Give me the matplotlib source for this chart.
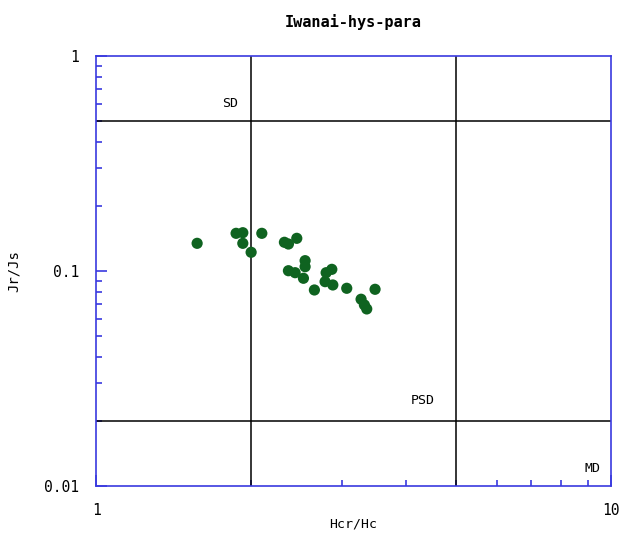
import matplotlib.pyplot as plt
from matplotlib.ticker import FixedLocator, LogLocator, NullFormatter

# Hcr/Hc and Jr/Js values
hcr_hc = [1.571, 1.870, 1.927, 1.927, 2.000, 2.098, 2.321, 2.363, 2.453,
          2.546, 2.546, 2.363, 2.435, 2.527, 2.654, 2.797, 2.869, 2.784,
          2.882, 3.067, 3.481, 3.270, 3.319, 3.354]
jr_js = [0.1345, 0.1497, 0.1507, 0.1345, 0.1222, 0.1497, 0.1360, 0.1335,
         0.1419, 0.1117, 0.1047, 0.1003, 0.0982, 0.0925, 0.0816, 0.0982,
         0.1018, 0.0892, 0.0861, 0.0831, 0.0822, 0.0739, 0.0695, 0.0666]

x_ticks = [1, 10]
x_tick_labels = ["1", "10"]
y_ticks = [0.01, 0.1, 1]
y_tick_labels = ["0.01", "0.1", "1"]

# domain boundaries (Day plot)
hc_bounds = [2, 5]
js_bounds = [0.02, 0.5]
regions = [("SD", 1.82, 0.56), ("PSD", 4.31, 0.0232), ("MD", 9.19, 0.0113)]


def main():
    fig = plt.figure(figsize=(6.2, 5.37), dpi=100)
    ax = fig.add_axes([0.155, 0.095, 0.8306, 0.8007])
    ax.set_xscale("log")
    ax.set_yscale("log")
    ax.set_xlim(1, 10)
    ax.set_ylim(0.01, 1)

    for xv in hc_bounds:
        ax.axvline(xv, color="black", lw=1.1)
    for yv in js_bounds:
        ax.axhline(yv, color="black", lw=1.1)

    ax.scatter(hcr_hc, jr_js, s=65, color="#0f6320", edgecolors="none",
               zorder=3)

    for name, xv, yv in regions:
        ax.text(xv, yv, name, ha="center", va="bottom", fontsize=9.5,
                family="DejaVu Sans Mono")

    blue = "#3a3adf"
    for sp in ax.spines.values():
        sp.set_color(blue)
        sp.set_linewidth(1.2)

    ax.xaxis.set_major_locator(FixedLocator(x_ticks))
    ax.set_xticklabels(x_tick_labels)
    ax.yaxis.set_major_locator(FixedLocator(y_ticks))
    ax.set_yticklabels(y_tick_labels)
    ax.xaxis.set_minor_locator(LogLocator(base=10, subs=range(2, 10)))
    ax.yaxis.set_minor_locator(LogLocator(base=10, subs=range(2, 10)))
    ax.xaxis.set_minor_formatter(NullFormatter())
    ax.yaxis.set_minor_formatter(NullFormatter())
    ax.tick_params(which="both", direction="in", color=blue, width=1.2,
                   labelsize=10.5, top=False, right=False)
    ax.tick_params(which="major", length=8, pad=12)
    ax.tick_params(which="minor", length=4)
    for lab in ax.get_xticklabels() + ax.get_yticklabels():
        lab.set_family("DejaVu Sans Mono")

    ax.set_title("Iwanai-hys-para", fontsize=11, fontweight="bold",
                 family="DejaVu Sans Mono", pad=21)
    ax.set_xlabel("Hcr/Hc", fontsize=9.5, family="DejaVu Sans Mono",
                  labelpad=0)
    ax.set_ylabel("Jr/Js", fontsize=10, family="DejaVu Sans Mono",
                  labelpad=17)

    fig.savefig("out.png", dpi=100)


if __name__ == "__main__":
    main()
